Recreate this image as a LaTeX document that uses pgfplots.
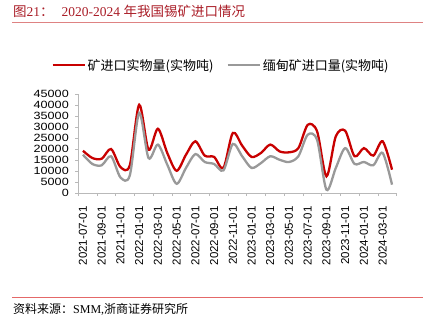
\documentclass[border=0pt]{standalone}
\usepackage{pgfplots}
\usepackage{pgfplotstable}
\pgfplotsset{compat=1.18}
\usepackage{fontspec}
\setmainfont{Liberation Serif}
\newfontfamily\cjk{Noto Sans CJK SC}
\newfontfamily\tickfont[FakeStretch=1.2]{Liberation Sans}
\newfontfamily\xtickfont{Liberation Sans}
\definecolor{redline}{RGB}{200,0,0}
\definecolor{grayline}{RGB}{153,153,153}
\definecolor{titlered}{RGB}{170,30,40}
\definecolor{rulered}{RGB}{222,130,130}
\definecolor{axisgray}{RGB}{185,185,185}

\pgfplotstableread{
i red gray
0 19200 17400
1 15900 13200
2 15600 12600
3 20000 16700
4 11800 7100
5 12600 8000
6 40100 36400
7 19700 15900
8 29200 22000
9 18200 12900
10 10100 4200
11 17400 11400
12 23500 17700
13 17000 14100
14 16400 13200
15 11400 10300
16 27300 22300
17 21500 16700
18 16400 11400
19 18200 13600
20 22000 16700
21 18900 15100
22 18500 14100
23 20400 16700
24 31000 26500
25 28000 24100
26 7600 1500
27 25800 11400
28 28300 20400
29 16700 13200
30 20400 14100
31 17000 12600
32 23500 18200
33 10600 3800
}\datatable

\begin{document}
\begin{tikzpicture}
\path[use as bounding box] (0pt,0pt) rectangle (430pt,322pt);
% title
\node[anchor=base west, inner sep=0pt, text=titlered, font=\fontsize{13.5}{15}\selectfont] at (13pt,305pt)
  {{\cjk 图}21{\cjk ：}\hspace{8pt}2020-2024 {\cjk 年我国锡矿进口情况}};
\draw[rulered, line width=1.4pt] (12pt,299.3pt) -- (423pt,299.3pt);
% source
\draw[rulered!80!red, line width=1pt] (12pt,25pt) -- (423pt,25pt);
\node[anchor=base west, inner sep=0pt, font=\fontsize{12}{14}\selectfont] at (13pt,9pt)
  {{\cjk 资料来源：}SMM,{\cjk 浙商证券研究所}};

\begin{axis}[
  at={(78.3pt,129pt)}, anchor=south west,
  scale only axis, width=318.4pt, height=99pt,
  xmin=-0.5, xmax=33.5, ymin=0, ymax=45000,
  axis x line*=bottom, axis y line*=left,
  axis line style={axisgray, line width=0.8pt},
  tick align=outside, major tick length=3pt,
  ytick={0,5000,...,45000},
  ytick style={axisgray, line width=0.8pt},
  scaled y ticks=false,
  yticklabel style={font=\fontsize{10.5}{11}\tickfont, xshift=-3pt,
    /pgf/number format/1000 sep={}, /pgf/number format/assume math mode=true},
  xtick={0,2,...,32},
  xticklabels={2021-07-01,2021-09-01,2021-11-01,2022-01-01,2022-03-01,2022-05-01,2022-07-01,2022-09-01,2022-11-01,2023-01-01,2023-03-01,2023-05-01,2023-07-01,2023-09-01,2023-11-01,2024-01-01,2024-03-01},
  xtick style={draw=none},
  xticklabel style={rotate=90, anchor=east, font=\fontsize{11.5}{12}\xtickfont, xshift=-7pt},
  legend style={at={(-0.085,1.29)}, anchor=west, draw=none, fill=none,
    font=\fontsize{13}{14}\cjk, inner sep=0pt,
    legend columns=2, /tikz/every even column/.append style={column sep=11pt}},
  legend image code/.code={\draw[#1] (0pt,0pt) -- (32pt,0pt);},
  clip=false,
]
\addplot[redline, line width=2.3pt, smooth, tension=0.5] table[x=i, y=red] {\datatable};
\addlegendentry{矿进口实物量(实物吨)}
\addplot[grayline, line width=2.3pt, smooth, tension=0.5] table[x=i, y=gray] {\datatable};
\addlegendentry{缅甸矿进口量(实物吨)}
\end{axis}
\begin{axis}[
  at={(78.3pt,129pt)}, anchor=south west,
  scale only axis, width=318.4pt, height=99pt,
  xmin=-0.5, xmax=33.5, ymin=0, ymax=45000,
  hide y axis, axis x line*=bottom,
  axis line style={draw=none},
  tick align=outside, major tick length=3pt,
  xtick={-0.5,1.5,...,33.5}, xticklabels={},
  xtick style={axisgray, line width=0.8pt},
]
\end{axis}
\end{tikzpicture}
\end{document}
